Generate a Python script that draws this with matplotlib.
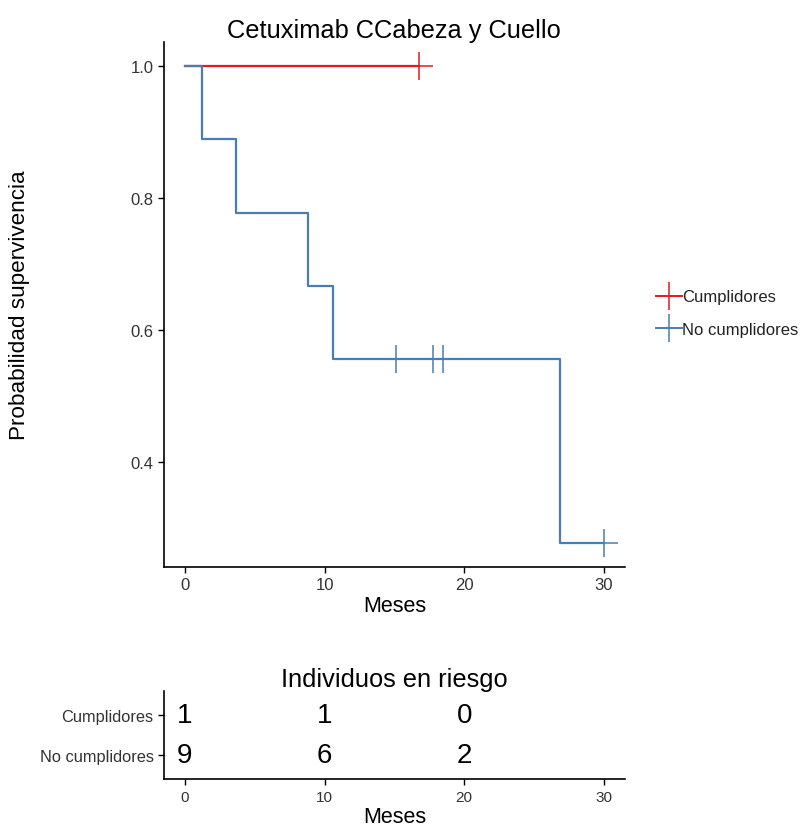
import matplotlib

matplotlib.use("Agg")
import matplotlib.pyplot as plt
from matplotlib.lines import Line2D

plt.rcParams["font.family"] = ["Liberation Sans", "DejaVu Sans"]

# survival curves (months, survival probability)
groups = ["Cumplidores", "No cumplidores"]
colors = ["#E41A1C", "#4A7DB0"]
t_cump = [0, 16.8]
s_cump = [1.0, 1.0]
cens_cump_t = [16.8]
cens_cump_s = [1.0]

t_no = [0, 1.2, 3.65, 8.8, 10.6, 26.9, 30.0]
s_no = [1.0, 0.889, 0.778, 0.667, 0.556, 0.278, 0.278]
cens_no_t = [15.1, 17.8, 18.5, 30.0]
cens_no_s = [0.556, 0.556, 0.556, 0.278]

# number at risk table
risk_times = [0, 10, 20]
risk_cump = [1, 1, 0]
risk_no = [9, 6, 2]
xticks = [0, 10, 20, 30]
yticks = [0.4, 0.6, 0.8, 1.0]

fig = plt.figure(figsize=(8.04, 8.29), dpi=100)
ax = fig.add_axes([0.204, 0.315, 0.573, 0.633])

ax.step(t_cump, s_cump, where="post", color=colors[0], lw=1.6)
ax.plot(cens_cump_t, cens_cump_s, ls="none", marker="+", ms=20, mew=1.1, color=colors[0])
ax.step(t_no, s_no, where="post", color=colors[1], lw=1.6)
ax.plot(cens_no_t, cens_no_s, ls="none", marker="+", ms=20, mew=1.1, color=colors[1])

ax.set_xlim(-1.5, 31.5)
ax.set_ylim(0.242, 1.036)
ax.set_xticks(xticks)
ax.set_yticks(yticks)
ax.set_yticklabels([f"{v:.1f}" for v in yticks])
ax.set_title("Cetuximab CCabeza y Cuello", fontsize=18.3, pad=4)
ax.set_xlabel("Meses", fontsize=15.5, labelpad=2)
ax.set_ylabel("Probabilidad supervivencia", fontsize=16.2)
ax.yaxis.set_label_coords(-0.29, 0.5)

ax.spines["top"].set_visible(False)
ax.spines["right"].set_visible(False)

handles = [Line2D([], [], color=c, lw=1.3, marker="+", ms=20, mew=1.1) for c in colors]
fig.legend(handles, groups, loc="center left", bbox_to_anchor=(0.797, 0.621),
           frameon=False, fontsize=12.0, handlelength=1.55, handletextpad=0.05,
           labelspacing=1.05, labelcolor="#222222")

# risk table
rt = fig.add_axes([0.204, 0.059, 0.573, 0.106])
for y, vals in zip([2, 1], [risk_cump, risk_no]):
    for x, v in zip(risk_times, vals):
        rt.text(x, y, str(v), ha="center", va="center", fontsize=20)
rt.set_xlim(-1.5, 31.5)
rt.set_ylim(0.4, 2.6)
rt.set_xticks(xticks)
rt.set_yticks([2, 1])
rt.set_yticklabels(groups)
rt.set_title("Individuos en riesgo", fontsize=18.3, pad=4)
rt.set_xlabel("Meses", fontsize=15.5, labelpad=2)
rt.spines["top"].set_visible(False)
rt.spines["right"].set_visible(False)

for a in (ax, rt):
    a.tick_params(direction="out", length=4, width=1, colors="black", labelcolor="#333333")
    for s in ("left", "bottom"):
        a.spines[s].set_linewidth(1.2)
ax.tick_params(labelsize=12)
rt.tick_params(axis="x", labelsize=11)
rt.tick_params(axis="y", labelsize=11.8)

fig.savefig("out.png", dpi=100, facecolor="white")
